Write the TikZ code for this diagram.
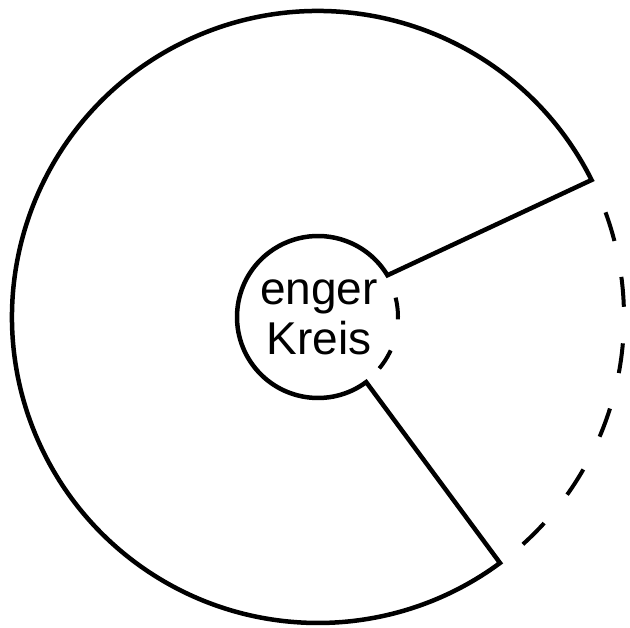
\documentclass[tikz,border=0pt]{standalone}
\usepackage{fontspec}
\setmainfont{Liberation Sans}
\usetikzlibrary{calc}

\tikzset{
  rim/.style={line width=4.5pt,line join=miter},
  gapline/.style={line width=4pt,dash pattern=on 30pt off 36.6pt},
  gapinner/.style={line width=4pt,dash pattern=on 22pt off 32pt},
  word/.style={anchor=base,inner sep=0pt,font=\fontsize{46}{50}\selectfont}
}

\begin{document}
\begin{tikzpicture}[x=1pt,y=1pt]
  \useasboundingbox (0,0) rectangle (630,628);

  \coordinate (centre) at (318,311);

  % cut-out ring
  \draw[rim] ($(centre)+(26.6:306)$)
    arc[start angle=26.6,end angle=306.5,radius=306]
    -- ($(centre)+(-53.5:81)$)
    arc[start angle=306.5,end angle=31,radius=81]
    -- cycle;

  % missing part
  \draw[gapline] ($(centre)+(20:306)$)
    arc[start angle=20,end angle=-48,radius=306];
  \draw[gapinner] ($(centre)+(14:80)$)
    arc[start angle=14,end angle=-40,radius=80];

  \node[word] (enger) at (319,323) {enger};
  \node[word] (kreis) at (319,273) {Kreis};
\end{tikzpicture}
\end{document}
